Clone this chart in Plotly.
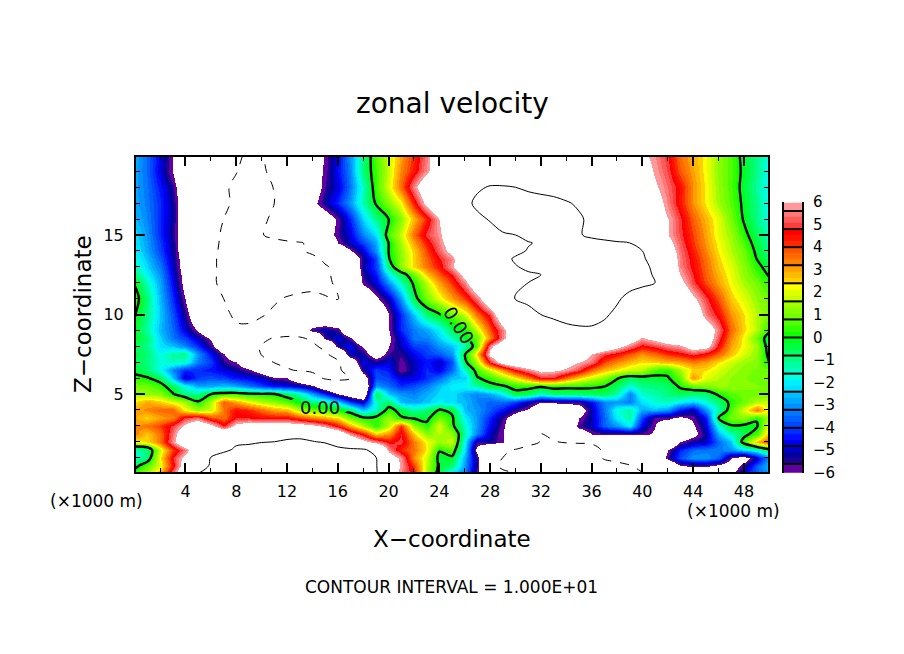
import plotly.graph_objects as go

W, H = 904, 654

# grid of the field, km
x_km = list(range(51))
z_km = [0, 0.5, 1, 1.5, 2, 2.5, 3, 3.5, 4, 4.5, 5, 5.5, 6, 6.5, 7, 7.5, 8, 8.5, 9,
        10, 11, 12, 12.5, 13, 13.5, 14, 14.5, 15, 16, 17, 18, 19, 20]

u_00 = [.5,1.5,3,5.5,8,10,11,11.5,12,12.4, 13,13.3,13.5,13.5,13.2,12.8,12.4,12,11.2,10.3,
        7.5,5.5,4.5,1.5,-.5,-2.5,-3.3,-5.8,-9.5,-9.6, -9.7,-9.8,-9.9,-9.9,-10.1,-10.5,-10.8,-10.8,-10.6,-10.4,
        -10.1,-9.5,-9,-8,-7.5,-7.5,-7.2,-6.5,-4.5,-3.5, -3]
u_05 = [-.4,.8,2,4.5,7,8.5,10.3,10.8,11.2,11.8, 12.5,12.8,13,13,12.8,12.5,12.2,11.8,11.2,10.2,
        7.5,5.8,4,1.6,-.2,-.8,-3,-5.5,-9.3,-10.4, -11.5,-12,-12.3,-12.2,-12,-11.6,-11,-10.7,-10.5,-10.1,
        -9.5,-9,-8.5,-6.2,-5.8,-5.8,-6.5,-7,-5.5,-3.6, -2.5]
u_10 = [-1.6,-.8,2.3,4.8,6.5,8,10.1,10.6,11,11.5, 12,12.2,12.4,12.4,12.3,12.2,12,11.7,11.2,10.1,
        7,5.7,3.2,1.8,-.3,-.2,-2.8,-5.5,-9.5,-10, -11,-11.6,-12,-12,-11.9,-11.7,-10.8,-9.8,-9.4,-9,
        -8.5,-8,-5.5,-3.8,-3,-3,-3.6,-6,-6.8,-5, -3]
u_15 = [-1.5,-1,1.8,4,5.4,7.5,8.5,9.7,10.2,10.6, 11,11.5,11.7,11.7,11.5,11.2,10.8,10.4,10.3,9.2,
        5.6,4.2,3.5,2.3,.1,.8,-2.2,-6.5,-9,-9.8, -10.1,-11,-11.3,-11.4,-11.3,-11.2,-11,-9.6,-9,-8.5,
        -8,-7.8,-6,-4.3,-3.5,-3.3,-3.3,-3,-2.3,-1.6, -.3]
u_20 = [2.2,2.4,3.5,5.7,7.5,8.5,9,9.5,9.8,9.7, 9.9,10,10.2,10.3,10.1,9.8,8.5,7.8,6.5,5.6,
        4.6,5,3.4,2.2,1.4,1.8,-2,-5.5,-5.2,-6, -8,-9,-10.1,-10.1,-9.8,-9.7,-9.6,-9.5,-9,-8.5,
        -8.5,-8.5,-8.3,-6,-5.2,-5,-3.5,-2.5,.6,2.8, 4]
u_25 = [3.4,2.6,3.5,5.4,7.5,8,8.4,8,8,8.6, 9,9.3,9.5,9.5,9,8.5,7.5,5.7,4.5,2.6,
        3.2,4.8,2.6,1.2,1.6,1.4,-1.3,-3.2,-5,-6, -7.8,-9,-10,-9.5,-8.5,-7.2,-6,-5.7,-5.8,-5.7,
        -5.7,-6.2,-6.1,-7.5,-6.5,-5.2,-2.6,-1.4,-.5,.6, 2.8]
u_30 = [3.2,3.5,4,5,6.3,7.5,6.5,4.8,6.4,7, 7,7.2,7,6.8,6.5,5.7,4.5,3,1.6,.3,
        1.7,4.2,1.3,.3,2,.3,-1.6,-3,-4.6,-5.8, -7.5,-9,-9.5,-9,-7.8,-5.6,-5,-3.6,-3,-2,
        -4.7,-6,-7,-7.5,-6.2,-4.8,-1.6,-.1,-.2,-.2, 2.3]
u_35 = [3,2.5,3,3.3,5,5.4,4,3.5,4.8,4.8, 4.6,4.6,4.6,4,3.4,3,2.4,1,.2,.3,
        1.4,.1,-.1,-.3,1,.2,-2,-3,-4.3,-5.6, -7,-8.5,-9,-9,-8.8,-6,-5,-3.6,-2,-1.2,
        -4,-5.8,-5.8,-6.3,-5.8,-4.5,0,1,1.2,.2, 1.5]
u_40 = [3,3.3,3.6,3.7,2.2,1.4,1.8,3.5,4.5,4.2, 3.6,3,2.8,1.5,1,.6,.2,-.6,-2.5,-1.5,
        .4,-.4,-1.2,-.8,.1,-.3,-2.6,-3,-3.7,-4.5, -5.4,-6.2,-7.5,-8.5,-8,-7,-5,-3.4,-1.7,-1.2,
        -2.8,-2.6,-3,-4.4,-5.1,-3,-1.3,.6,2,3.5, 2]
u_45 = [2.4,3,2.6,2,1.5,.1,1.6,3.8,3,2.2, 1.6,1.2,.7,-.1,-.9,-1.2,-2.2,-4,-5,-1.5,
        -.7,-2.6,-2.8,-2.5,-2,-2.3,-2.6,-3.2,-3.6,-3.5, -4,-5,-6,-5.7,-5.5,-5.5,-4.5,-3.2,-3,-3.3,
        -2.2,-1.6,-1.4,-2,-2.4,-1.7,-.8,.3,.9,1.6, 1.8]
u_50 = [1.4,1.3,1.2,.1,-1,-1,0,.4,.5,.2, .1,.05,-.5,-1.4,-2.8,-4.2,-6,-7,-8,-.3,
        -2.5,-3,-3.2,-2.7,-2.3,-2.2,-2.8,-3.2,-2.8,-2, -.3,-.5,-1.5,-.8,-.8,-.7,-.6,-.5,-1.3,-3.2,
        -1.5,-1.3,-.9,-.6,-.8,-.8,.2,.7,.9,1, 1]
u_55 = [1,.9,.4,-.6,-1.7,-2.8,-2.8,-2.5,-2.8,-3.4, -4,-4.4,-4.6,-5,-5.7,-7.5,-8.5,-9,-8,-3,
        -3.5,-4.2,-3.8,-3.3,-2.5,-2,-1.8,-1.3,-.3,-.1, .3,.3,.2,.4,.3,.3,.2,.05,-.6,-1.6,
        -1,-.9,-.7,.2,.8,1.1,1.4,1.3,1.2,1.1, 1]
u_60 = [.3,.1,-.5,-2.5,-5,-4,-3.8,-4,-4.4,-4.6, -5,-5.8,-6,-7.5,-9,-10.3,-10.5,-10.1,-7,-3.8,
        -4,-4.8,-4.8,-4.2,-3.5,-2.5,-2.4,-.1,.4,1.3, 2.2,3.4,4.8,4.7,3.6,2.5,1.8,1.2,.1,-.6,
        -.4,-.3,-.1,.8,3.2,2,1.6,1.3,1.1,.9, .8]
u_65 = [-.3,-.8,-1.8,-3.2,-4.2,-4.2,-4.4,-4.8,-5.2,-5.8, -6.8,-8.5,-9.8,-10.2,-10.4,-10.6,-10.4,-9,-5.4,-4,
        -4.4,-6,-5,-4.2,-4.8,-3.5,-1.5,.5,1.8,3.2, 4.6,5.6,6.4,6.2,5.8,5,3.6,2.8,2.3,1.8,
        1.6,.6,.3,1.5,2.5,2.4,1.9,1.5,1.2,1, .9]
u_70 = [-.6,-.9,-1.7,-1.4,-1.6,-3.3,-4,-5.5,-6,-7.5, -9,-10.1,-10.5,-10.7,-10.8,-10.9,-10.6,-7.5,-4.6,-5.3,
        -4.8,-5.8,-5,-4.4,-5,-3.8,-.3,1.6,4.8,6.8, 7.5,7.8,7.6,7.2,6.8,6,5.4,4,3.3,2.8,
        2.4,2.6,2.8,3,3.4,3.1,2.4,1.8,1.4,1.2, -.05]
u_75 = [-.4,-.8,-1.8,-1.2,-1,-3,-4.5,-6,-7.5,-8.8, -10.1,-10.6,-11,-11,-10.8,-10.5,-8.5,-5,-5.2,-7,
        -5.5,-5.5,-4.6,-4,-3.7,-3,-.1,2.6,6.4,7.5, 8,8.3,8.4,8.3,8,7.3,5.9,5,4.5,3.8,
        3.2,3.6,4.2,4.5,5,4.5,3.7,2.7,1.9,1.3, -.3]
u_80 = [-.6,-1,-2.2,-2.5,-3.2,-4.2,-5.6,-7.5,-8.6,-9.5, -10.1,-11,-11.5,-11.3,-10.6,-9.2,-5.4,-4.5,-6.2,-8,
        -6,-5,-4,-3.8,-3,-2.5,-1.4,.8,5.6,7.5, 8,8.5,8.7,8.9,9,9,8.6,7.5,6.5,5.5,
        4.6,5,5.5,5.8,6.8,6.6,4.5,3,2.2,1.4, -.5]
u_85 = [-.1,-.8,-2.3,-3.4,-4,-5,-6.2,-8,-9,-9.7, -9.7,-10.1,-10.5,-10.4,-9.5,-5.6,-4.7,-5.8,-8,-8,
        -6.2,-4.8,-3.3,-3.2,-2.4,-1.4,-.2,.9,3.3,5.6, 7.8,8.6,9,9.2,9.4,9.4,9.3,9,8.6,7,
        5.9,6.5,7.2,7.5,7.5,7.2,5,3.3,2.2,.9, -.6]
u_90 = [-.2,-1.2,-2.6,-3.5,-4.8,-6.2,-8,-9,-9.6,-9.6, -9,-8.5,-8.4,-8,-5.5,-5,-5.6,-8,-9,-8,
        -6,-4.2,-3.3,-2.8,-2,-.6,0,1.8,3.8,5.6, 7.8,8.5,9.2,9.5,9.7,9.8,9.8,9.6,9.2,9,
        8.8,8.6,8.3,8,7.6,7.2,5.4,3.6,2.5,1.6, .2]
u_100 = [.05,-1,-2.4,-3.8,-5.4,-7.5,-8.5,-9.5,-10.4,-10.5, -10.2,-9.6,-9.2,-8.8,-8.5,-8.5,-8.6,-8.8,-9,-8,
         -6,-4.2,-2.5,-.8,-.1,.8,1.8,3.5,4.9,7.5, 8.6,9.3,10,10.2,10.4,10.5,10.5,10.2,9.7,9.2,
         9,8.7,8.4,8,7.5,5.5,4.5,3.2,2.4,1.6, 1]
u_110 = [.4,-.8,-2.6,-4.2,-6,-8,-9,-10,-10.6,-10.8, -10.7,-10.3,-9.8,-9.5,-9.4,-9.9,-10.1,-9,-8,-6.3,
         -5,-3,-.4,1,2,3,4,5.4,7.5,8.4, 10.1,10.5,10.9,11,11,11,10.9,10.7,10.2,9.6,
         9.2,8.9,8.6,7.8,6.3,5,3.8,2.6,2,1.3, .9]
u_120 = [-.1,-1.4,-2.8,-4.6,-6.5,-8,-9.6,-10.5,-11,-11.2, -11.5,-11.5,-11.3,-11,-10.8,-10.4,-9.7,-8.8,-5.8,-4.8,
         -3,-1.4,.2,1.7,3,4.1,5.6,7.5,8.2,9, 9.7,10,10.5,11,11.2,11.2,11.2,11,10.7,10.5,
         10.3,10,8.2,6.5,5,3.9,3,2.2,1.5,1, .3]
u_125 = [-.8,-1.9,-3,-4.8,-6.6,-8,-9.6,-10.5,-11.1,-11.5, -11.8,-11.8,-11.6,-11.2,-10.9,-10.3,-9.6,-8.6,-5.5,-4.4,
         -2,-.6,.8,2.6,3.7,4.7,6.5,7.8,8.4,9, 9.4,9.8,10,10.6,11,11.2,11.2,11.1,10.9,10.7,
         10.3,9.9,8.2,6,4.8,3.7,2.8,2.1,1.3,.6, -.1]
u_130 = [-1.4,-2.3,-3.3,-5,-6.8,-8,-9.5,-10.6,-11.3,-11.8, -12,-12,-11.8,-11.4,-11,-10.2,-9.5,-8.5,-5.2,-4,
         -.8,1.3,2.5,3.5,4.4,5.8,7.6,8.1,8.5,9, 9.9,10.3,10.7,11,11.2,11.3,11.3,11.2,11,10.8,
         10.4,9.7,8,5.6,4.6,3.6,2.6,2,1.2,.3, -.4]
u_135 = [-1.7,-2.5,-3.6,-5.1,-6.9,-8,-9.5,-10.6,-11.2,-11.7, -11.8,-11.7,-11.5,-11,-10.6,-9.6,-8.8,-7.8,-5.4,-4,
         -.1,1.2,2.5,3.7,4.7,5.6,7.8,8.3,8.9,9.5, 10.2,10.5,10.8,11,11.2,11.2,11.2,11.1,10.9,10.7,
         10.2,9.4,7.6,5.5,4.5,3.5,2.5,1.8,1,0, -.7]
u_140 = [-2,-2.8,-3.9,-5.3,-7,-8,-9.4,-10.5,-11,-11.5, -11.5,-11.2,-11,-10.3,-9.5,-8,-7.5,-6.2,-4.8,-3,
         0,1.3,2.6,4,5.2,6.5,8,8.5,9,9.3, 9.6,10.1,10.4,10.8,11,11,11,10.9,10.7,10.4,
         10,9,7,5.4,4.3,3.3,2.3,1.6,.9,-.2, -1]
u_145 = [-2.1,-2.9,-4,-5.3,-7,-8,-9.3,-10.4,-11,-11.3, -10.8,-10.6,-10.4,-10.2,-9.5,-8,-6,-5,-4,-2.8,
         0,1.5,3,4.4,5.5,7,8.2,8.7,9.2,9.5, 9.7,9.9,10.2,10.8,11,11,10.8,10.6,10.3,10,
         9,8,6.5,5.2,4.1,3.1,2.2,1.5,.6,-.4, -1.2]
u_150 = [-2.2,-3,-4.2,-5.4,-7,-8,-9.3,-10.3,-10.8,-11, -10.1,-9.5,-8.8,-8,-7.5,-6.8,-5.6,-4.8,-3.2,-2.2,
         .6,1.8,3.6,5,5.7,7.5,8.5,9,9.5,9.8, 10,10.5,11,11.2,11,10.2,9.5,9,8.5,8,
         7.5,7,6,5,4,3,2,1.4,.3,-.6, -1.4]
u_160 = [-2.6,-3.2,-4.2,-5.3,-7,-8,-9,-10,-10.6,-11, -10.4,-9.6,-9,-8,-7.5,-7,-5.8,-4.3,-2.3,-1,
         0,1.2,2.8,4.3,6,8,9,9.7,10.1,10.9, 11.3,11.5,11.5,11.3,11,10.3,9.5,9,8.5,8,
         7.5,7,6,4.9,3.7,2.8,2,1,-.1,-1, -1.8]
u_170 = [-2.8,-3.3,-4.2,-5.3,-7,-8,-8.8,-9.6,-10.4,-11, -11,-10,-9,-8,-6.5,-5.2,-4.2,-3,-1.3,.1,
         1.2,2.2,4.4,6.5,8,9,9.6,10.3,11,11.3, 11.4,11.3,11,10.7,10.2,9.7,9.2,8.8,8.4,8,
         7.6,6.8,5.5,4.4,3.2,2.3,1.4,.7,-.2,-1, -2]
u_180 = [-2.8,-3.4,-4.4,-5.5,-7.5,-8,-8.5,-9.6,-10.5,-11, -10.8,-9.9,-9,-8,-7,-5.6,-4.8,-3.4,-1.5,.5,
         2,3.6,5.6,7.5,8,8.5,9,9.8,10.1,10.1, 10,9.5,9.2,9,8.8,8.6,8.4,8.2,8,7.8,
         7.5,6.2,5.3,4.5,3.2,2.3,1.3,.6,-.3,-1.2, -2]
u_190 = [-2.8,-3.5,-4.8,-6.1,-8,-8,-8.5,-9,-9.9,-11, -10.3,-9.5,-8.5,-7.5,-6.8,-5.8,-4.5,-3.2,-.8,.5,
         1.8,3.3,4.4,5.7,7.5,8,8.3,8.7,9,9, 9,8.8,8.6,8.5,8.4,8.3,8.2,8,7.9,7.7,
         7,5.8,5,3.8,3,2.2,1.2,.6,-.2,-1, -2]
u_200 = [-2.7,-3.5,-4.6,-6.1,-8,-8,-8.5,-9.2,-9.7,-10.3, -10.1,-9.5,-8.6,-7.8,-7,-5.9,-4.6,-3,-1,.7,
         1.8,3,4.2,5.5,7.5,8,8,8,8.2,8.2, 8.3,8.3,8.3,8.3,8.2,8.2,8,8,7.8,7.5,
         6.3,5.6,4.8,3.5,2.9,2.2,1.3,.6,-.3,-1, -1.8]

u_rows = [u_00, u_05, u_10, u_15, u_20, u_25, u_30, u_35, u_40, u_45, u_50, u_55, u_60, u_65, u_70,
          u_75, u_80, u_85, u_90, u_100, u_110, u_120, u_125, u_130, u_135, u_140, u_145, u_150,
          u_160, u_170, u_180, u_190, u_200]

cbar_ticks = [-6, -5, -4, -3, -2, -1, 0, 1, 2, 3, 4, 5, 6]
cbar_edges = [-5.6 + 0.8 * i for i in range(15)]
x_ticks = list(range(4, 49, 4))
y_ticks = [5, 10, 15]

# grid nodes (z, x) blanked on the zero line where its two labels sit
label_gaps = [(4, 13), (4, 14), (4, 15), (4, 16), (4.5, 13), (4.5, 14), (4.5, 15), (4.5, 16),
              (10, 25), (9, 25), (9, 26), (8.5, 26)]

# bottom to top, three shades per box of the colour bar
shades = ["#6000a0",
          "#200090", "#0000a0", "#0000c8", "#0000f0", "#0010ff", "#0030ff",
          "#0048ff", "#0060ff", "#0078ff", "#0090ff", "#00a8ff", "#00c0ff",
          "#00e0ff", "#00f0ff", "#00ffe0", "#00ffc0", "#00ffa0", "#00ff80",
          "#00ff60", "#00ff40", "#00ff20", "#10ff00", "#30ff00", "#50ff00",
          "#70ff00", "#88ff00", "#a0ff00", "#c8ff00", "#e0ff00", "#ffff00",
          "#ffd000", "#ffb800", "#ffa000", "#ff8000", "#ff6a00", "#ff5000",
          "#ff2800", "#ff1000", "#ff0000", "#ff3c3c", "#ff5a5a", "#ff7878",
          "#ff9999"]

ZLIM = 30
band_edges = [-6.0] + [-5.6 + i * 0.8 / 3 for i in range(43)] + [6.0]


def norm(v):
    return (v + ZLIM) / (2 * ZLIM)


scale = [[0, "white"], [norm(-6), "white"]]
for i, c in enumerate(shades):
    scale += [[norm(band_edges[i]), c], [norm(band_edges[i + 1]), c]]
scale += [[norm(6), "white"], [1, "white"]]

fig = go.Figure()
fig.add_trace(go.Heatmap(x=x_km, y=z_km, z=u_rows, zmin=-ZLIM, zmax=ZLIM, colorscale=scale,
                         zsmooth="best", showscale=False, hoverinfo="skip"))


def contour_line(rows, level, width, dash):
    fig.add_trace(go.Contour(x=x_km, y=z_km, z=rows, autocontour=False, showscale=False,
                             contours=dict(start=level, end=level, size=1, coloring="none"),
                             line=dict(color="black", width=width, dash=dash), hoverinfo="skip"))


zero_rows = [list(r) for r in u_rows]
for gz, gx in label_gaps:
    zero_rows[z_km.index(gz)][gx] = None

contour_line(zero_rows, 0, 2.4, "solid")
contour_line(u_rows, 10, 1, "solid")
contour_line(u_rows, -10, 1, "dash")

# colour bar
band_mid = [(band_edges[i] + band_edges[i + 1]) / 2 for i in range(len(shades))]
fig.add_trace(go.Heatmap(x=[0, 1], y=band_mid, z=[[v, v] for v in band_mid], zmin=-ZLIM, zmax=ZLIM,
                         colorscale=scale, showscale=False, xaxis="x2", yaxis="y2", hoverinfo="skip"))
for e in cbar_edges:
    fig.add_shape(type="line", xref="x2 domain", yref="y2", x0=0, x1=1, y0=e, y1=e,
                  line=dict(color="black", width=2))
for t in cbar_ticks:
    fig.add_annotation(text=str(t).replace("-", "\u2212"), xref="paper", yref="y2", x=811 / W, y=t,
                       xanchor="left", yanchor="middle", showarrow=False, font=dict(size=15))

axis_style = dict(showline=True, linecolor="black", linewidth=2, mirror="ticks", showgrid=False, zeroline=False,
                  ticks="inside", ticklen=9, tickwidth=2, tickcolor="black", tickfont=dict(size=16, color="black"))
fig.update_layout(
    width=W, height=H, margin=dict(l=0, r=0, t=0, b=0), paper_bgcolor="white", plot_bgcolor="white",
    font=dict(family="DejaVu Sans", color="black"), showlegend=False,
    xaxis=dict(domain=[136 / W, 768 / W], range=[0.1, 49.9], tickvals=x_ticks, ticklabelstandoff=4,
               minor=dict(ticks="inside", dtick=2, tick0=0, ticklen=4, tickwidth=1, tickcolor="black"), **axis_style),
    yaxis=dict(domain=[1 - 472 / H, 1 - 157 / H], range=[0.1, 19.9], tickvals=y_ticks, ticklabelstandoff=7,
               minor=dict(ticks="inside", dtick=1, tick0=0, ticklen=4, tickwidth=1, tickcolor="black"), **axis_style),
    xaxis2=dict(domain=[784 / W, 802 / W], range=[0, 1], visible=False, anchor="y2"),
    yaxis2=dict(domain=[1 - 473 / H, 1 - 202 / H], range=[-6, 6], anchor="x2", showticklabels=False, ticks="",
                showgrid=False, zeroline=False, showline=True, linecolor="black", linewidth=2, mirror=True),
)


def text(s, px, py, size, **kw):
    fig.add_annotation(text=s, xref="paper", yref="paper", x=px / W, y=1 - py / H, showarrow=False,
                       xanchor="center", yanchor="middle", font=dict(size=size), **kw)


text("zonal velocity", 452, 104, 28)
text("X\u2212coordinate", 452, 539, 23)
text("Z\u2212coordinate", 83, 314, 23, textangle=-90)
text("(\u00d71000 m)", 96, 501, 17)
text("(\u00d71000 m)", 733, 511, 17)
text("CONTOUR INTERVAL = 1.000E+01", 451, 587, 17)
text("0.00", 320, 407, 18)
text("0.00", 459, 325, 18, textangle=58)

fig.write_html("out.html", config=dict(displayModeBar=False), post_script="document.body.style.margin='0'")
